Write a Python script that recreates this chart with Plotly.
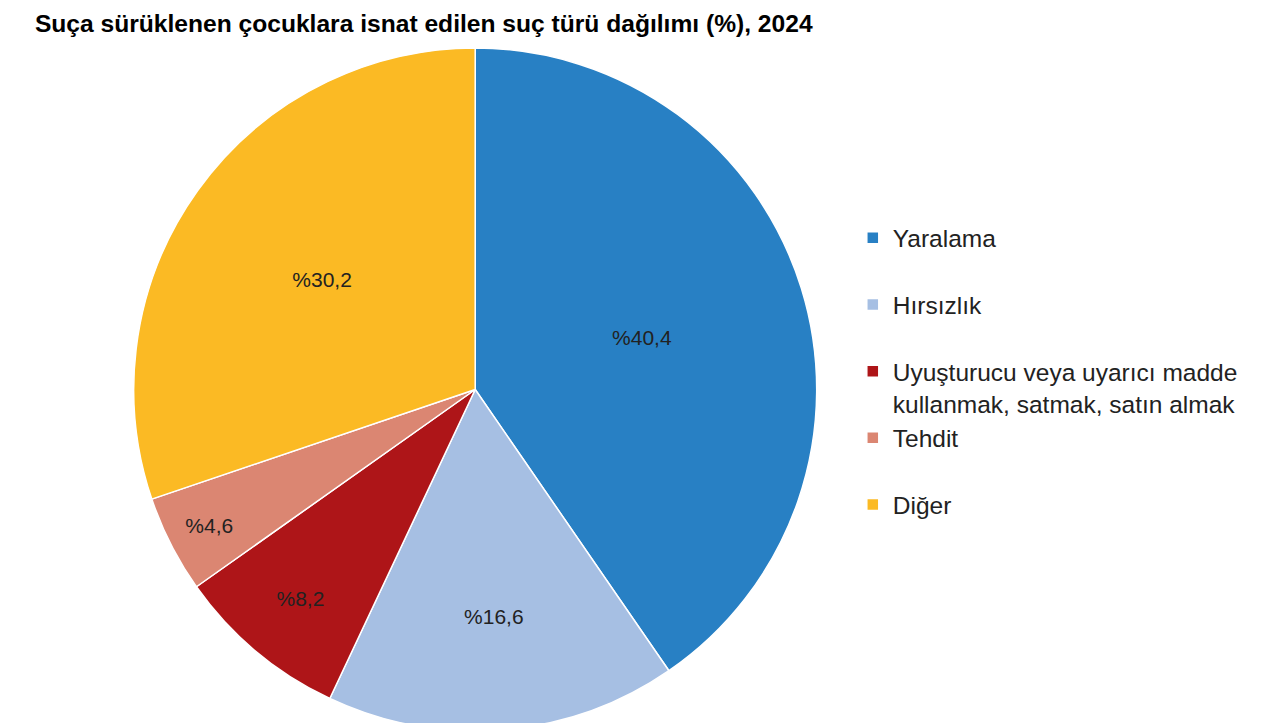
import plotly.graph_objects as go

categories = ["Yaralama", "Hırsızlık", "Uyuşturucu veya uyarıcı madde<br>kullanmak, satmak, satın almak", "Tehdit", "Diğer"]
values = [40.4, 16.6, 8.2, 4.6, 30.2]
colors = ["#2880C4", "#A6BFE3", "#AE1518", "#DB8672", "#FBBA24"]
labels_txt = ["%" + f"{v:.1f}".replace(".", ",") for v in values]
legend_labels = [c + "<br> " if "<br>" not in c else c for c in categories]

fig = go.Figure(go.Pie(
    labels=legend_labels, values=values, text=labels_txt,
    textinfo="text", textposition="inside", insidetextorientation="horizontal",
    textfont=dict(size=21, color="#222222", family="Liberation Sans, Arial"),
    marker=dict(colors=colors, line=dict(color="white", width=1.5)),
    sort=False, direction="clockwise", rotation=0,
    domain=dict(x=[0, 0.73], y=[0, 1]),
))
fig.update_layout(
    width=1280, height=723,
    margin=dict(l=0, r=0, t=40, b=0),
    paper_bgcolor="white",
    title=dict(text="<b>Suça sürüklenen çocuklara isnat edilen suç türü dağılımı (%), 2024</b>",
               x=0.021, xanchor="left", y=0.99, yanchor="top",
               font=dict(size=24.6, color="black", family="Liberation Sans, Arial")),
    legend=dict(x=0.66, y=0.755, xanchor="left", yanchor="top", valign="top",
                font=dict(size=24.5, color="#222222", family="Liberation Sans, Arial"),
                itemwidth=30, tracegroupgap=0),
)
fig.write_html("out.html")
